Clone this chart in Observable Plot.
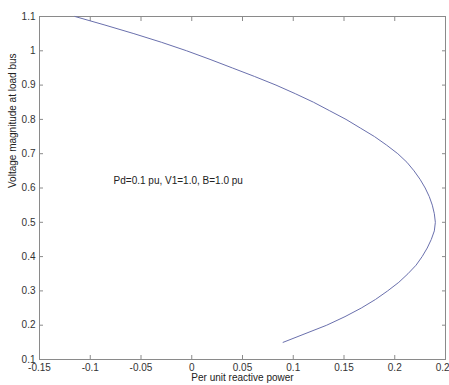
<!DOCTYPE html>
<html>
<head>
<meta charset="utf-8">
<script src="https://cdn.jsdelivr.net/npm/d3@7"></script>
<script src="https://cdn.jsdelivr.net/npm/@observablehq/plot@0.6"></script>
<style>
  body { margin: 0; background: white; }
  #chart { width: 449px; height: 385px; overflow: hidden; }
</style>
</head>
<body>
<div id="chart"></div>
<script>
// Voltage magnitude at load bus (y) vs per-unit reactive power (x)
const voltage = [1.1, 1.075, 1.05, 1.025, 1.0, 0.975, 0.95, 0.925, 0.9, 0.875, 0.85, 0.825, 0.8, 0.775, 0.75, 0.725, 0.7, 0.675, 0.65, 0.625, 0.6, 0.575, 0.55, 0.525, 0.5, 0.475, 0.45, 0.425, 0.4, 0.375, 0.35, 0.325, 0.3, 0.275, 0.25, 0.225, 0.2, 0.15];
const reactive = [-0.115, -0.0855, -0.057, -0.030, -0.005, 0.018, 0.040, 0.062, 0.083, 0.102, 0.120, 0.136, 0.152, 0.166, 0.180, 0.192, 0.203, 0.212, 0.219, 0.225, 0.230, 0.234, 0.237, 0.239, 0.240, 0.239, 0.236, 0.232, 0.227, 0.221, 0.213, 0.204, 0.193, 0.181, 0.167, 0.151, 0.133, 0.090];
const xTicks = [-0.15, -0.1, -0.05, 0, 0.05, 0.1, 0.15, 0.2, 0.25];
const yTicks = [0.1, 0.2, 0.3, 0.4, 0.5, 0.6, 0.7, 0.8, 0.9, 1, 1.1];
const annotation = ["Pd=0.1 pu, V1=1.0, B=1.0 pu"];
const annotationPos = {x: -0.077, y: 0.62};
const xLabel = "Per unit reactive power";
const yLabel = "Voltage magnitude at load bus";

const data = voltage.map((v, i) => ({v, q: reactive[i]}));
const fmt = d => String(d);
const axisColor = "#8a8a8a";

const chart = Plot.plot({
  width: 449,
  height: 385,
  marginLeft: 39,
  marginTop: 16,
  marginRight: 4,
  marginBottom: 26,
  style: {fontFamily: "'Liberation Sans', Arial, sans-serif", fontSize: "10px", color: "#333", background: "white", overflow: "visible"},
  x: {domain: [-0.15, 0.25]},
  y: {domain: [0.1, 1.1]},
  marks: [
    Plot.frame({stroke: axisColor}),
    Plot.axisX(xTicks, {anchor: "bottom", tickSize: -4, tickPadding: 8, stroke: axisColor, tickFormat: fmt, label: null, fill: "#333"}),
    Plot.axisX(xTicks, {anchor: "top", tickSize: -4, stroke: axisColor, tickFormat: () => "", label: null}),
    Plot.axisY(yTicks, {anchor: "left", tickSize: -4, tickPadding: 8, stroke: axisColor, tickFormat: fmt, label: null, fill: "#333"}),
    Plot.axisY(yTicks, {anchor: "right", tickSize: -4, stroke: axisColor, tickFormat: () => "", label: null}),
    Plot.line(data, {x: "q", y: "v", stroke: "#6a70ad", strokeWidth: 1}),
    Plot.text(annotation, {x: () => annotationPos.x, y: () => annotationPos.y, text: d => d, textAnchor: "start", fill: "#222", fontSize: 10}),
    Plot.text([xLabel], {frameAnchor: "bottom", dy: 21, text: d => d, fill: "#222", fontSize: 10}),
    Plot.text([yLabel], {frameAnchor: "left", dx: -27, rotate: -90, text: d => d, fill: "#222", fontSize: 10})
  ]
});
document.getElementById("chart").append(chart);
</script>
</body>
</html>
